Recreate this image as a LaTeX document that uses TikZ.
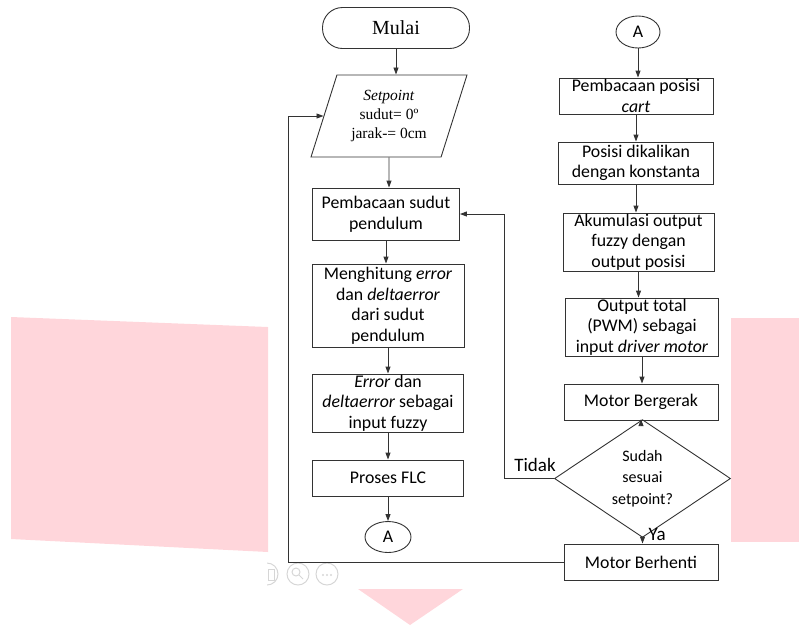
\documentclass[tikz,border=0pt]{standalone}
\usepackage{fontspec}
\setmainfont{Carlito}
\newfontfamily\timesfont{Liberation Serif}
\usepackage{xcolor}
\usetikzlibrary{
    shapes.geometric,
    positioning,
    arrows.meta
}
\definecolor{wmpink}{RGB}{255,214,219}
\definecolor{icongray}{RGB}{214,214,214}

\begin{document}
\begin{tikzpicture}[
      x=1pt, y=-1pt,
      every node/.style={font=\fontsize{17.8}{20.5}\selectfont},
      line/.style={line width=0.9pt, draw=black!80},
      box/.style={draw=black!80, line width=0.9pt, align=center, inner sep=0pt},
      term/.style={box, rounded corners=20pt, font=\timesfont\fontsize{20}{24}\selectfont},
      io/.style={box, trapezium, trapezium left angle=70, trapezium right angle=110,
        trapezium stretches=true, font=\timesfont\fontsize{15.5}{19}\selectfont},
      conn/.style={box, ellipse},
      decide/.style={box, diamond, font=\fontsize{16}{21.5}\selectfont},
      arrow/.style={line, -{Triangle[length=7pt, width=5pt]}},
      lbl/.style={font=\fontsize{19}{22}\selectfont}
    ]
    \useasboundingbox (0,0) rectangle (799,625);

    % watermark behind the chart
    \fill[wmpink] (11,317) -- (268,327) -- (268,552) -- (11,539) -- cycle;
    \fill[wmpink] (731,318) rectangle (799,542);
    \fill[wmpink] (358,589) -- (463,589) -- (410,625) -- cycle;

    % viewer buttons
    \begin{scope}[draw=icongray, line width=1pt]
      \begin{scope}
        \clip (267,560) rectangle (285,590);
        \draw (267,574) circle (11pt);
        \draw (268,569) rectangle (274,580);
      \end{scope}
      \draw (298,574) circle (11pt);
      \draw (296,572) circle (4pt);
      \draw (299,575) -- (303,579);
      \draw (327,574) circle (11pt);
      \foreach \dx in {-4,0,4}
        \fill[icongray] (327+\dx,575) circle (1.2pt);
    \end{scope}

    % left column
    \node[term, minimum width=147pt, minimum height=41pt] (mulai) at (396,28) {Mulai};
    \node[io, minimum width=156pt, minimum height=82pt] (setp) at (389,116)
      {\textit{Setpoint}\\sudut= 0º\\jarak-= 0cm};
    \node[box, minimum width=147pt, minimum height=52pt] (baca) at (386,214)
      {Pembacaan sudut\\pendulum};
    \node[box, minimum width=152pt, minimum height=83pt] (hitung) at (388,305.5)
      {Menghitung \textit{error}\\dan \textit{deltaerror}\\dari sudut\\pendulum};
    \node[box, minimum width=151pt, minimum height=58pt] (err) at (388,403)
      {\textit{Error} dan\\\textit{deltaerror} sebagai\\input fuzzy};
    \node[box, minimum width=151pt, minimum height=36pt] (flc) at (388,478) {Proses FLC};
    \node[conn, minimum width=46pt, minimum height=31pt] (ka) at (388,537) {A};

    % right column
    \node[conn, minimum width=44pt, minimum height=32pt] (kb) at (638,32) {A};
    \node[box, minimum width=154pt, minimum height=36pt] (cart) at (636,96)
      {Pembacaan posisi\\\textit{cart}};
    \node[box, minimum width=155pt, minimum height=42pt] (kali) at (636,163)
      {Posisi dikalikan\\dengan konstanta};
    \node[box, minimum width=151pt, minimum height=58pt] (akum) at (638.5,242)
      {Akumulasi output\\fuzzy dengan\\output posisi};
    \node[box, minimum width=153pt, minimum height=58pt] (total) at (642,327)
      {Output total\\(PWM) sebagai\\input \textit{driver motor}};
    \node[box, minimum width=154pt, minimum height=36pt] (gerak) at (641,402) {Motor Bergerak};
    \node[decide, minimum width=176pt, minimum height=81pt] (cek) at (642.5,478.5)
      {Sudah\\sesuai\\setpoint?};
    \node[box, minimum width=154pt, minimum height=36pt] (stop) at (641,562) {Motor Berhenti};

    \node[lbl, anchor=base] (tidak) at (535,471) {Tidak};
    \node[lbl, anchor=base west] (ya) at (645,540) {Ya};

    \draw[arrow] (mulai) -- (mulai |- setp.north);
    \draw[arrow] (setp) -- (setp |- baca.north);
    \draw[arrow] (baca) -- (baca |- hitung.north);
    \draw[arrow] (hitung) -- (hitung |- err.north);
    \draw[arrow] (err) -- (err |- flc.north);
    \draw[arrow] (flc) -- (flc |- ka.north);

    \draw[arrow] (kb) -- (kb |- cart.north);
    \draw[arrow] (cart) -- (cart |- kali.north);
    \draw[arrow] (kali) -- (kali |- akum.north);
    \draw[arrow] (akum) -- (akum |- total.north);
    \draw[arrow] (total) -- (total |- gerak.north);
    \draw[arrow] (gerak) -- (gerak |- cek.north);
    \draw[arrow] (cek) -- (cek |- stop.north);

    \draw[arrow] (cek.west) -- ++(-50,0) |- (baca.east);
    \draw[arrow] (stop.west) -- ++(-275,0) |- (setp);
  \end{tikzpicture}
\end{document}
